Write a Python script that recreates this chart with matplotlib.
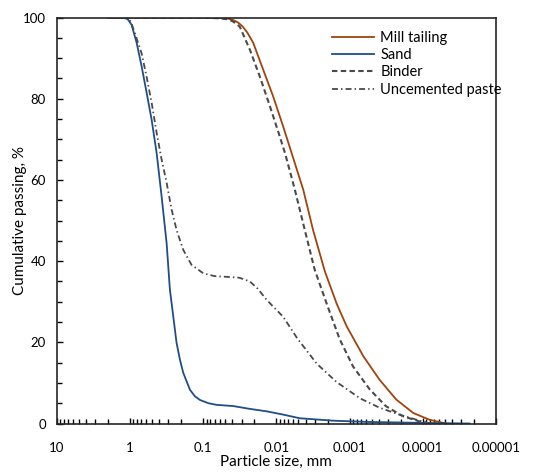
import numpy as np
import matplotlib.pyplot as plt
from matplotlib.ticker import FixedLocator, LogLocator, MultipleLocator, NullFormatter

plt.rcParams['font.family'] = ['Lato', 'DejaVu Sans']

# particle size (mm) and cumulative passing (%)
mill_size = [2, 0.1, 0.06, 0.045, 0.038, 0.033, 0.029, 0.025, 0.0208, 0.0152, 0.0111, 0.0081,
             0.0064, 0.0043, 0.00316, 0.00218, 0.0015, 0.0011, 0.00065, 0.00039, 0.00023,
             0.000135, 0.00008, 0.000048]
mill_pass = [100, 100, 99.9, 99.7, 99.3, 98.7, 97.8, 96.3, 93.8, 87.2, 80.6, 73.2,
             67.4, 57.6, 47.7, 37.5, 29.5, 24, 16.6, 10.8, 5.9,
             2.6, 0.9, 0]

sand_size = [2, 1.24, 1.08, 0.955, 0.815, 0.697, 0.595, 0.508, 0.434, 0.371, 0.317, 0.286,
             0.232, 0.209, 0.188, 0.152, 0.13, 0.111, 0.085, 0.066, 0.039, 0.023, 0.0136,
             0.0081, 0.0048, 0.00168, 0.00059, 0.0001, 0.000023]
sand_pass = [100, 100, 99.6, 98.2, 93.8, 88, 81.5, 74.8, 66.6, 55.9, 44.4, 33,
             19.9, 15.8, 12.5, 8.3, 6.7, 5.8, 5.0, 4.6, 4.3, 3.6, 3.0,
             2.2, 1.3, 0.7, 0.4, 0.15, 0]

binder_size = [2, 0.1, 0.06, 0.048, 0.041, 0.036, 0.0316, 0.0231, 0.0169, 0.0123, 0.0093,
               0.0076, 0.0056, 0.0041, 0.003, 0.002, 0.00136, 0.0009, 0.00053, 0.00032,
               0.000187, 0.00011, 0.00008]
binder_pass = [100, 100, 99.8, 99.6, 99.2, 98.6, 97.7, 92.1, 85.5, 78.2, 71.5,
               66.5, 57.6, 47.7, 37.9, 28.9, 20.7, 14.1, 8.4, 4.3,
               1.8, 0.5, 0]

paste_size = [2, 1.12, 1.02, 0.96, 0.859, 0.697, 0.595, 0.508, 0.434, 0.371, 0.317, 0.271,
              0.232, 0.188, 0.145, 0.1, 0.07, 0.045, 0.032, 0.0231, 0.018, 0.0135, 0.0081,
              0.0052, 0.0028, 0.0015, 0.00072, 0.00039, 0.00021, 0.00011, 0.00008]
paste_pass = [100, 100, 99.4, 98.6, 96.1, 91.2, 85.4, 79, 71.6, 65, 59.3, 52.7,
              47.7, 42.8, 39.1, 37, 36.3, 36.1, 35.9, 35.0, 33.2, 30.4, 26.3,
              21, 14.7, 10.2, 6.2, 3.9, 2.2, 0.7, 0]

decades = [10, 1, 0.1, 0.01, 0.001, 0.0001, 0.00001]
decade_labels = ['10', '1', '0.1', '0.01', '0.001', '0.0001', '0.00001']

fig = plt.figure(figsize=(5.5, 4.74), dpi=100)
ax = fig.add_axes([0.1036, 0.1065, 0.798, 0.8565])

ax.plot(mill_size, mill_pass, color='#A0440C', lw=1.3, label='Mill tailing')
ax.plot(sand_size, sand_pass, color='#1F4E89', lw=1.3, label='Sand')
ax.plot(binder_size, binder_pass, color='#4A4A4A', lw=1.5, ls=(0, (2.6, 1.6)), label='Binder')
ax.plot(paste_size, paste_pass, color='#4A4A4A', lw=1.3, ls=(0, (3.3, 1.7, 0.8, 1.7)),
        label='Uncemented paste')

ax.set_xscale('log')
ax.set_xlim(10, 0.00001)
ax.set_ylim(0, 100)

ax.xaxis.set_major_locator(FixedLocator(decades))
ax.set_xticks(decades)
ax.set_xticklabels(decade_labels)
ax.xaxis.set_minor_locator(LogLocator(base=10, subs=np.arange(2, 10), numticks=20))
ax.xaxis.set_minor_formatter(NullFormatter())
ax.yaxis.set_major_locator(MultipleLocator(20))
ax.yaxis.set_minor_locator(MultipleLocator(5))

ax.tick_params(which='both', direction='in', top=False, right=False, labelsize=9.5, colors='black')
ax.tick_params(which='major', length=4, width=1)
ax.tick_params(which='minor', length=3.5, width=1)
ax.tick_params(axis='x', which='major', pad=13)
ax.tick_params(axis='y', which='major', pad=8)
for s in ax.spines.values():
    s.set_linewidth(1.2)
    s.set_color('#262626')

ax.set_xlabel('Particle size, mm', fontsize=11, labelpad=1)
ax.set_ylabel('Cumulative passing, %', fontsize=11, labelpad=-3)

ax.legend(loc='upper left', bbox_to_anchor=(332 / 550, 1 - 31 / 474), bbox_transform=fig.transFigure,
          frameon=False, fontsize=10.5, handlelength=2.9, handletextpad=0.4,
          labelspacing=0.22, borderpad=0, borderaxespad=0)

fig.savefig('out.png', dpi=100)
